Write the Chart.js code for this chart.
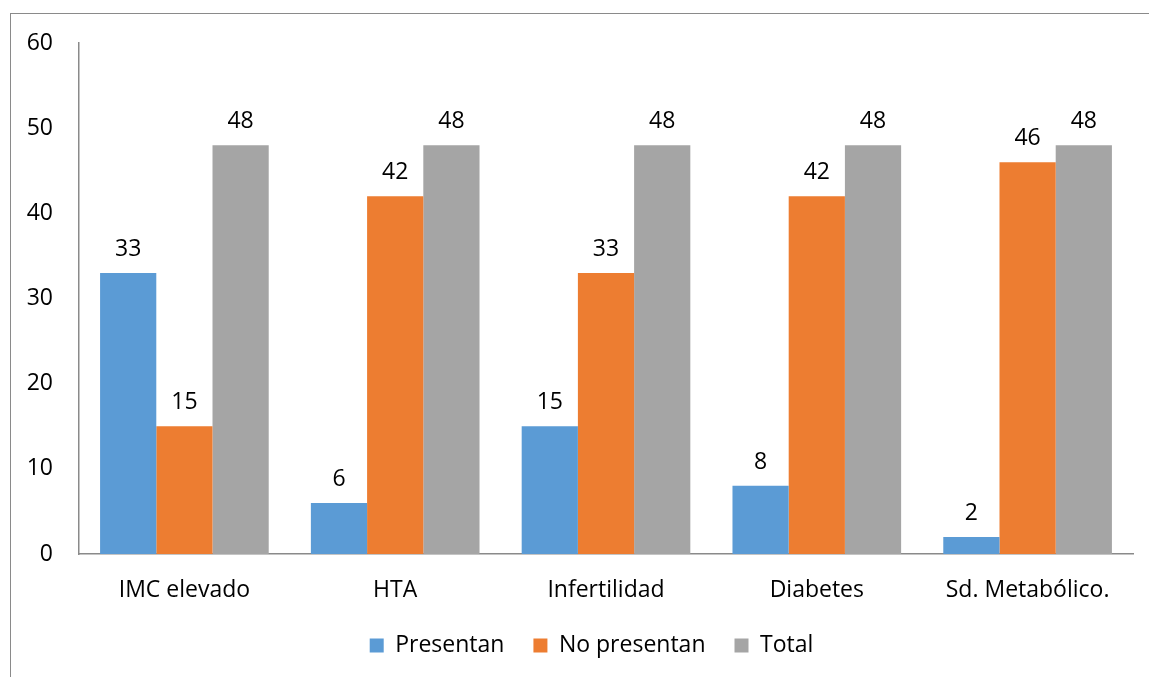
<!DOCTYPE html>
<html>
<head>
<meta charset="utf-8">
<script src="https://cdn.jsdelivr.net/npm/chart.js@4.4.0/dist/chart.umd.min.js"></script>
<style>
  html, body { margin: 0; padding: 0; background: #fff; }
  #wrap { position: relative; width: 1149px; height: 677px; }
  #frame { position: absolute; left: 10px; top: 13px; width: 1150px; height: 700px;
           border-left: 1.5px solid #8a8a8a; border-top: 1.5px solid #8a8a8a; }
  canvas { position: absolute; left: 0; top: 0; }
</style>
</head>
<body>
<div id="wrap">
  <div id="frame"></div>
  <canvas id="chart" width="1149" height="677"></canvas>
</div>
<script>
const categories = ['IMC elevado', 'HTA', 'Infertilidad', 'Diabetes', 'Sd. Metabólico.'];
const presentan = [33, 6, 15, 8, 2];
const noPresentan = [15, 42, 33, 42, 46];
const total = [48, 48, 48, 48, 48];
const yTicks = [0, 10, 20, 30, 40, 50, 60];

const FONT = '"Open Sans", "Liberation Sans", sans-serif';
const FS = 23;

// numbers above each bar
const valueLabels = {
  id: 'valueLabels',
  afterDatasetsDraw(chart) {
    const ctx = chart.ctx;
    ctx.save();
    ctx.font = FS + 'px ' + FONT;
    ctx.fillStyle = '#000';
    ctx.textAlign = 'center';
    ctx.textBaseline = 'alphabetic';
    chart.data.datasets.forEach((ds, i) => {
      chart.getDatasetMeta(i).data.forEach((bar, j) => {
        ctx.fillText(ds.data[j], bar.x, bar.y - 17);
      });
    });
    ctx.restore();
  }
};

// legend sits a bit right of the plot centre, like the original
const legendShift = {
  id: 'legendShift',
  afterLayout(chart) {
    chart.legend.left += 15;
    chart.legend.right += 15;
  }
};

new Chart(document.getElementById('chart').getContext('2d'), {
  type: 'bar',
  data: {
    labels: categories,
    datasets: [
      { label: 'Presentan', data: presentan, backgroundColor: '#5b9bd5' },
      { label: 'No presentan', data: noPresentan, backgroundColor: '#ed7d31' },
      { label: 'Total', data: total, backgroundColor: '#a5a5a5' }
    ]
  },
  options: {
    responsive: false,
    animation: false,
    categoryPercentage: 0.8,
    barPercentage: 1.0,
    layout: { padding: { left: 20, right: 16, top: 43, bottom: 10 } },
    plugins: {
      tooltip: { enabled: false },
      legend: {
        position: 'bottom',
        labels: {
          font: { family: FONT, size: FS },
          color: '#000',
          boxWidth: 14,
          boxHeight: 14,
          padding: 29
        }
      }
    },
    scales: {
      x: {
        grid: { display: false, drawTicks: false },
        border: { display: true, color: '#8a8a8a', width: 1.5 },
        afterFit(scale) { scale.height = 51; },
        ticks: { font: { family: FONT, size: FS }, color: '#000', padding: 23 }
      },
      y: {
        min: 0,
        max: 60,
        grid: { display: false, drawTicks: false },
        border: { display: true, color: '#8a8a8a', width: 1.5 },
        afterBuildTicks(scale) { scale.ticks = yTicks.map(v => ({ value: v })); },
        afterFit(scale) { scale.width = 59; },
        ticks: { font: { family: FONT, size: FS }, color: '#000', padding: 26 }
      }
    }
  },
  plugins: [valueLabels, legendShift]
});
</script>
</body>
</html>
